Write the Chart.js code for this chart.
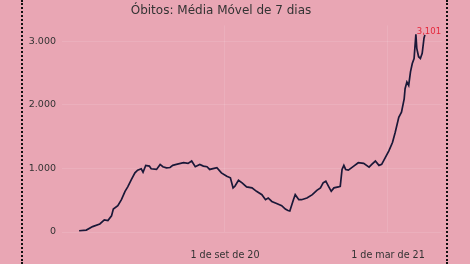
<!DOCTYPE html>
<html>
<head>
<meta charset="utf-8">
<script src="https://cdn.jsdelivr.net/npm/chart.js@4/dist/chart.umd.min.js"></script>
<style>
  html, body { margin: 0; padding: 0; background: #e9a6b4; }
  #wrap { position: relative; width: 470px; height: 264px; overflow: hidden; }
  #c { position: absolute; left: 0; top: 0; }
  #frame { position: absolute; left: 21px; top: 0; width: 423px; height: 264px;
           border-left: 2px dotted #111; border-right: 2px dotted #111; pointer-events: none; }
</style>
</head>
<body>
<div id="wrap">
  <canvas id="c" width="470" height="264"></canvas>
  <div id="frame"></div>
</div>
<script>
// Day index: 0 = 1 Mar 2020
const days = [22, 30, 37, 45, 50, 54, 58, 60, 65, 69, 73, 76, 80, 84, 87, 91, 93, 96, 100, 102,
  108, 112, 115, 119, 123, 126, 130, 138, 143, 147, 151, 156, 160, 164, 167, 175, 180, 186, 190, 193,
  195, 199, 203, 208, 214, 219, 225, 229, 232, 236, 242, 247, 251, 254, 256, 260, 262, 266, 269, 275,
  281, 286, 290, 293, 296, 299, 302, 305, 310, 312, 314, 316, 318, 321, 327, 332, 338, 344, 347, 351,
  355, 358, 362, 366, 370, 373, 377, 380, 383, 384, 386, 388, 390, 392, 394, 396, 397, 399, 401, 403,
  405, 406];
const deaths = [20, 30, 85, 127, 190, 180, 254, 360, 413, 508, 640, 710, 825, 930, 973, 995, 940, 1048, 1037, 995,
  984, 1063, 1027, 1010, 1015, 1048, 1063, 1090, 1079, 1116, 1027, 1063, 1037, 1027, 984, 1010, 930, 878, 852, 694,
  719, 814, 773, 709, 694, 640, 587, 508, 535, 481, 444, 413, 360, 338, 330, 508, 587, 508, 508, 535,
  587, 656, 694, 773, 799, 719, 640, 694, 709, 719, 984, 1048, 984, 973, 1037, 1090, 1079, 1021, 1063, 1116,
  1048, 1063, 1169, 1275, 1408, 1566, 1804, 1884, 2095, 2254, 2360, 2306, 2519, 2650, 2730, 3110, 2889, 2757, 2730, 2810,
  3048, 3101];
const xTickDays = [184, 365];
const xTickLabels = ['1 de set de 20', '1 de mar de 21'];
const yTickValues = [0, 1000, 2000, 3000];
const yTickLabels = ['0', '1.000', '2.000', '3.000'];
const chartTitle = 'Óbitos: Média Móvel de 7 dias';

const FONT = '"DejaVu Sans", Verdana, sans-serif';

const lastLabelPlugin = {
  id: 'lastLabel',
  afterDatasetsDraw(chart) {
    const meta = chart.getDatasetMeta(0);
    const pt = meta.data[meta.data.length - 1];
    const v = deaths[deaths.length - 1];
    const txt = v.toLocaleString('en-US');
    const ctx = chart.ctx;
    ctx.save();
    ctx.font = '8.5px ' + FONT;
    ctx.fillStyle = '#e5283c';
    ctx.textAlign = 'center';
    ctx.textBaseline = 'middle';
    ctx.fillText(txt, pt.x + 4, pt.y - 3);
    ctx.restore();
  }
};

new Chart(document.getElementById('c'), {
  type: 'line',
  data: {
    datasets: [{
      data: days.map((d, i) => ({ x: d, y: deaths[i] })),
      borderColor: '#1a1838',
      borderWidth: 1.7,
      pointRadius: 0,
      tension: 0,
      fill: false
    }]
  },
  options: {
    responsive: false,
    animation: false,
    events: [],
    layout: { padding: { left: 0, right: 28, top: 0, bottom: 0 } },
    plugins: {
      legend: { display: false },
      tooltip: { enabled: false },
      title: {
        display: true,
        text: chartTitle,
        color: '#333',
        font: { family: FONT, size: 12, weight: 'normal' },
        padding: { top: 4, bottom: 7 }
      }
    },
    scales: {
      x: {
        type: 'linear',
        min: 3,
        max: 425,
        afterBuildTicks(axis) { axis.ticks = xTickDays.map(v => ({ value: v })); },
        afterFit(axis) { axis.height = 32; },
        border: { display: false },
        grid: { color: 'rgba(255,255,255,0.11)', drawTicks: false },
        ticks: {
          padding: 18,
          color: '#333',
          maxRotation: 0,
          font: { family: FONT, size: 9.6 },
          callback: (v) => xTickLabels[xTickDays.indexOf(v)]
        }
      },
      y: {
        min: 0,
        max: 3250,
        afterBuildTicks(axis) { axis.ticks = yTickValues.map(v => ({ value: v })); },
        afterFit(axis) { axis.width = 62; },
        border: { display: false },
        grid: { color: 'rgba(255,255,255,0.11)', drawTicks: false },
        ticks: {
          padding: 6,
          color: '#333',
          font: { family: FONT, size: 9.5 },
          callback: (v) => yTickLabels[yTickValues.indexOf(v)]
        }
      }
    }
  },
  plugins: [lastLabelPlugin]
});
</script>
</body>
</html>
